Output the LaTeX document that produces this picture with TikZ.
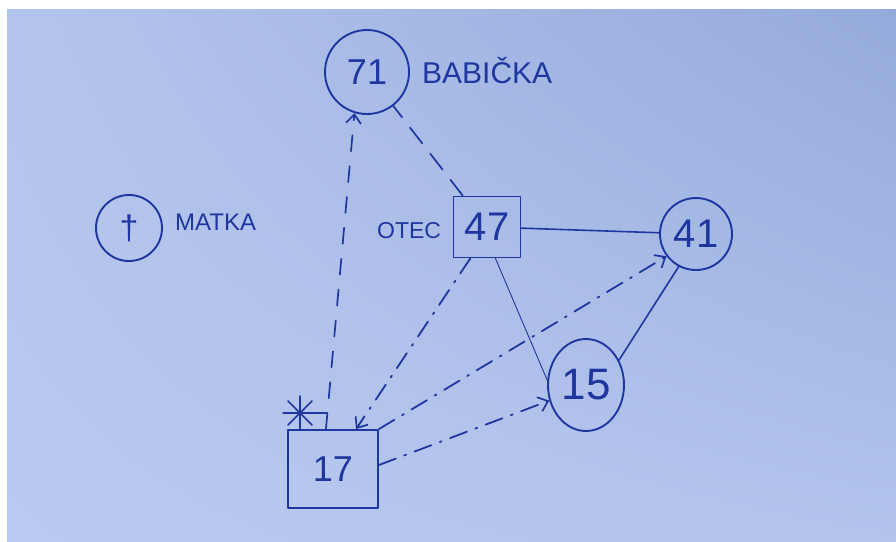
\documentclass[tikz,border=0pt]{standalone}
\usepackage{fontspec}
\setmainfont{Liberation Sans}
\usetikzlibrary{shapes.geometric,arrows.meta,calc,shadings}
\definecolor{ink}{RGB}{30,55,160}
\definecolor{pUL}{RGB}{180,197,236}
\definecolor{pUR}{RGB}{148,170,220}
\definecolor{pLL}{RGB}{186,202,240}
\definecolor{pLR}{RGB}{178,196,236}
\tikzset{
  inkline/.style={draw=ink, line width=1.9pt, line cap=round, line join=round},
  circnode/.style={circle, inkline, inner sep=0pt, text=ink},
  boxnode/.style={rectangle, inkline, inner sep=0pt, text=ink},
  eggnode/.style={ellipse, inkline, inner sep=0pt, text=ink},
  txtnode/.style={text=ink, inner sep=0pt},
  dashline/.style={inkline, line width=1.7pt, dash pattern=on 16pt off 15pt},
  dashdotline/.style={inkline, line width=1.8pt, dash pattern=on 18pt off 9pt on 2pt off 9pt},
  barb/.style={-{Straight Barb[length=9pt,width=15pt,line width=1.7pt]}},
}
\begin{document}
\begin{tikzpicture}[x=1pt,y=-1pt]
\useasboundingbox (0,0) rectangle (896,541);
\fill[white] (0,0) rectangle (896,541);
\shade[upper left=pUL, upper right=pUR, lower left=pLL, lower right=pLR] (7,9) rectangle (896,541);

% nodes
\node[circnode, minimum size=84pt, font=\fontsize{36}{36}\selectfont] (n71) at (367,72) {71};
\node[txtnode, anchor=base west, font=\fontsize{30}{30}\selectfont] (babicka) at (422,83) {BABIČKA};
\node[circnode, minimum size=66pt, font=\fontsize{34}{34}\selectfont] (matka) at (129,228) {†};
\node[txtnode, anchor=base west, font=\fontsize{24}{24}\selectfont] (matkat) at (175,230) {MATKA};
\node[boxnode, minimum width=67pt, minimum height=61pt, font=\fontsize{40}{40}\selectfont] (n47) at (487,227) {47};
\node[txtnode, anchor=base west, font=\fontsize{23}{23}\selectfont] (otec) at (377,238) {OTEC};
\node[circnode, minimum size=72pt, font=\fontsize{40}{40}\selectfont] (n41) at (696,234) {41};
\node[eggnode, minimum width=76pt, minimum height=92pt, font=\fontsize{44}{44}\selectfont] (n15) at (586,385) {15};
\node[boxnode, minimum width=90pt, minimum height=78pt, font=\fontsize{36}{36}\selectfont] (n17) at (333,469) {17};

% asterisk marker
\coordinate (ast) at (300,413);
\coordinate (tick) at (327,413);
\draw[inkline, line width=1.5pt] ($(ast)+(0,-17)$) -- ($(ast)+(0,17)$);
\draw[inkline, line width=1.5pt] ($(ast)+(-12,-12)$) -- ($(ast)+(12,12)$);
\draw[inkline, line width=1.5pt] ($(ast)+(12,-12)$) -- ($(ast)+(-12,12)$);
\draw[inkline, line width=1.5pt] ($(ast)+(-17,0)$) -- (tick);

% connectors
\draw[dashline, dash pattern=on 20pt off 13pt] (n47) -- (n71);
\draw[dashline, barb] (n17.100) -- (n71.-107);
\draw[dashdotline, barb] (n47.-118) -- (n17.60);
\draw[inkline, line width=1.6pt] (n47) -- (n41);
\draw[inkline, line width=0.9pt] (n47.-75) -- (n15.173);
\draw[inkline, line width=1.6pt] (n41.-118) -- (n15.37);
\draw[dashdotline, barb] (n17.north east) -- (n41.-143);
\draw[dashdotline, barb] (n17.5) -- (n15.-157);
\end{tikzpicture}
\end{document}
